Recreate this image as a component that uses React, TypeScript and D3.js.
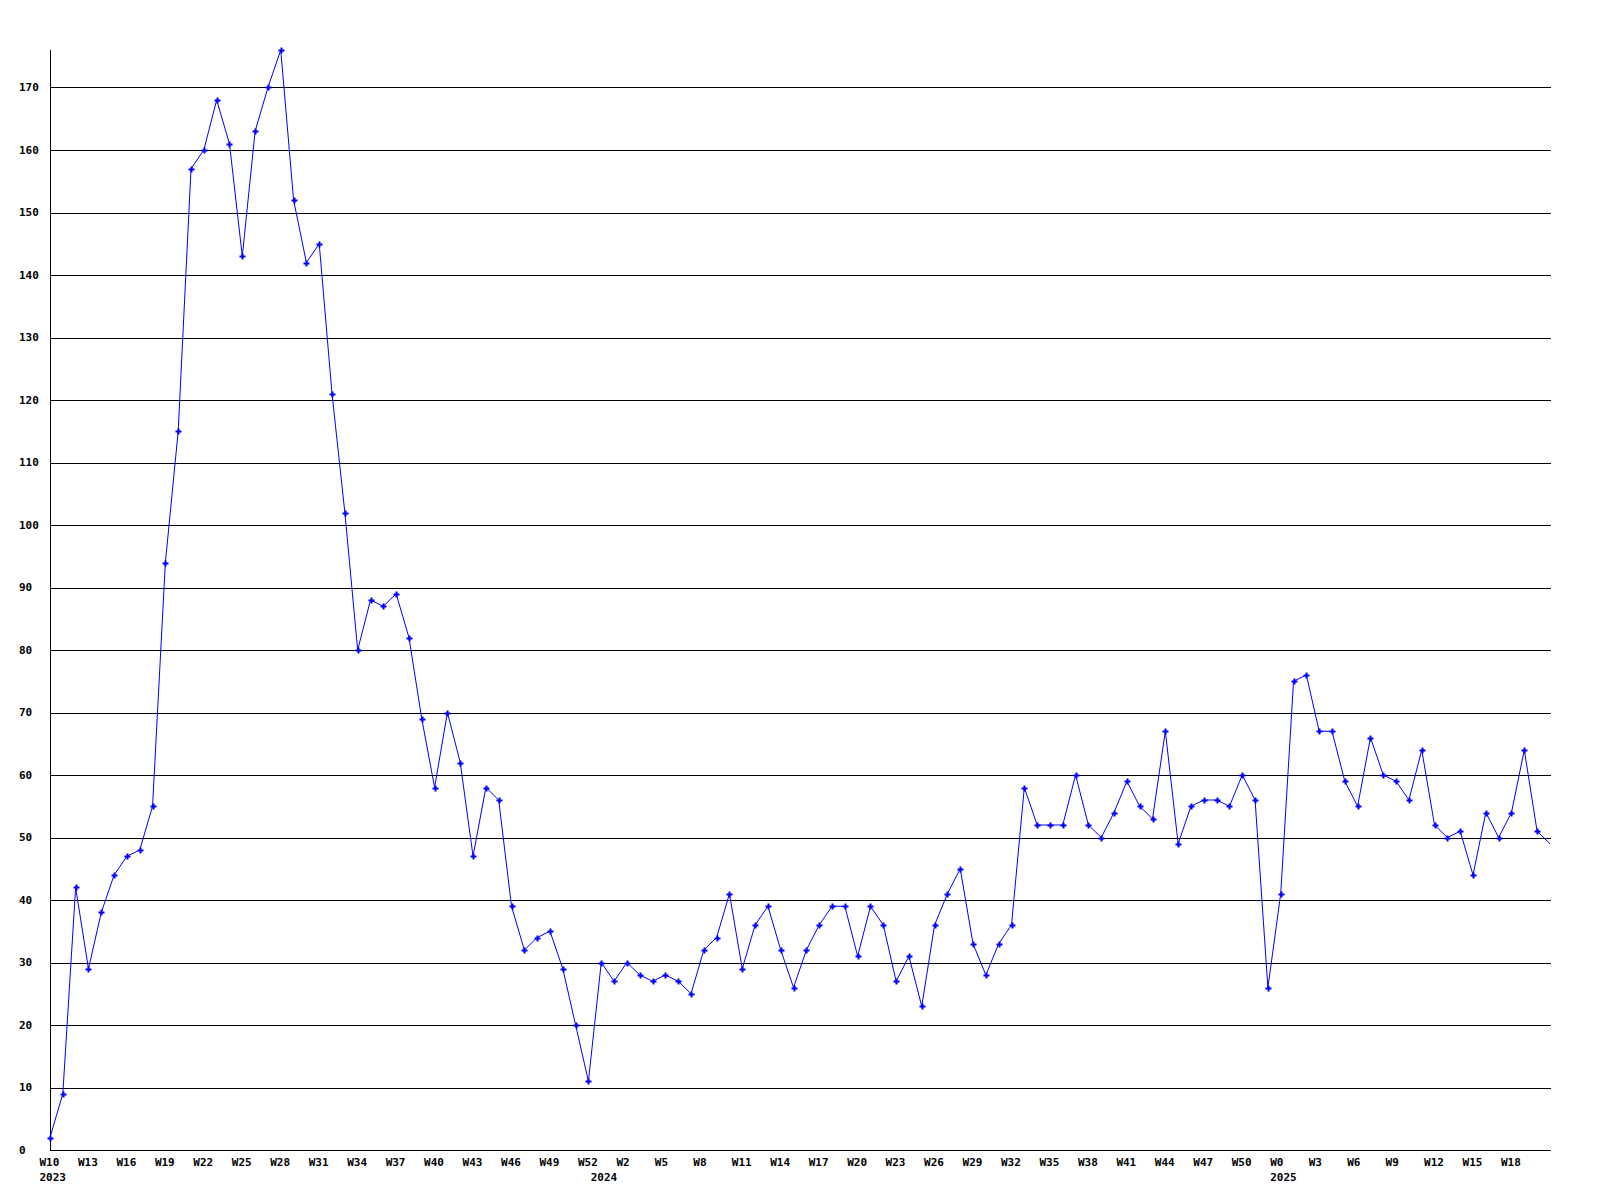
import React, { useEffect, useRef } from "react";
import * as d3 from "d3";

// Weekly values, from W10 2023 onward
const values: number[] = [
  2, 9, 42, 29, 38, 44, 47, 48, 55, 94,
  115, 157, 160, 168, 161, 143, 163, 170, 176, 152,
  142, 145, 121, 102, 80, 88, 87, 89, 82, 69,
  58, 70, 62, 47, 58, 56, 39, 32, 34, 35,
  29, 20, 11, 30, 27, 30, 28, 27, 28, 27,
  25, 32, 34, 41, 29, 36, 39, 32, 26, 32,
  36, 39, 39, 31, 39, 36, 27, 31, 23, 36,
  41, 45, 33, 28, 33, 36, 58, 52, 52, 52,
  60, 52, 50, 54, 59, 55, 53, 67, 49, 55,
  56, 56, 55, 60, 56, 26, 41, 75, 76, 67,
  67, 59, 55, 66, 60, 59, 56, 64, 52, 50,
  51, 44, 54, 50, 54, 64, 51, 49,
];

// Tick labels (every third week) with their index
const tickIndices: number[] = [
  0, 3, 6, 9, 12, 15, 18, 21, 24, 27, 30, 33, 36, 39, 42,
  45, 48, 51, 54, 57, 60, 63, 66, 69, 72, 75, 78, 81, 84, 87, 90, 93,
  96, 99, 102, 105, 108, 111, 114,
];
const tickLabels: string[] = [
  "W10", "W13", "W16", "W19", "W22", "W25", "W28", "W31", "W34", "W37", "W40", "W43", "W46", "W49", "W52",
  "W2", "W5", "W8", "W11", "W14", "W17", "W20", "W23", "W26", "W29", "W32", "W35", "W38", "W41", "W44", "W47", "W50",
  "W0", "W3", "W6", "W9", "W12", "W15", "W18",
];
const yearIndices: number[] = [0, 43, 96];
const yearLabels: string[] = ["2023", "2024", "2025"];
const yTicks: number[] = [0, 10, 20, 30, 40, 50, 60, 70, 80, 90, 100, 110, 120, 130, 140, 150, 160, 170];

export default function App() {
  const ref = useRef<SVGSVGElement>(null);

  useEffect(() => {
    const svg = d3.select(ref.current);
    svg.selectAll("*").remove();

    const left = 50;
    const right = 1551;
    const top = 50;
    const bottom = 1150;

    const x = d3.scaleLinear().domain([0, 117]).range([left, left + 117 * 12.82]);
    const y = d3.scaleLinear().domain([0, 176]).range([bottom, top]);

    const font = "'DejaVu Sans Mono', monospace";

    // grid lines
    svg
      .append("g")
      .selectAll("line")
      .data(yTicks.filter((t) => t > 0))
      .join("line")
      .attr("x1", left)
      .attr("x2", right)
      .attr("y1", (d) => Math.round(y(d)) + 0.5)
      .attr("y2", (d) => Math.round(y(d)) + 0.5)
      .attr("stroke", "#000")
      .attr("stroke-width", 1)
      .attr("shape-rendering", "crispEdges");

    // axes
    svg
      .append("line")
      .attr("x1", left + 0.5)
      .attr("x2", left + 0.5)
      .attr("y1", top)
      .attr("y2", bottom + 0.5)
      .attr("stroke", "#000")
      .attr("shape-rendering", "crispEdges");
    svg
      .append("line")
      .attr("x1", left)
      .attr("x2", right)
      .attr("y1", bottom + 0.5)
      .attr("y2", bottom + 0.5)
      .attr("stroke", "#000")
      .attr("shape-rendering", "crispEdges");

    // y labels
    svg
      .append("g")
      .selectAll("text")
      .data(yTicks)
      .join("text")
      .attr("x", 19)
      .attr("y", (d) => y(d))
      .attr("dy", "0.35em")
      .attr("font-family", font)
      .attr("font-weight", "bold")
      .attr("font-size", 11)
      .attr("fill", "#000")
      .text((d) => String(d));

    // x labels
    svg
      .append("g")
      .selectAll("text")
      .data(tickIndices)
      .join("text")
      .attr("x", (d) => x(d) - 10.5)
      .attr("y", 1166)
      .attr("font-family", font)
      .attr("font-weight", "bold")
      .attr("font-size", 11)
      .attr("fill", "#000")
      .text((_d, i) => tickLabels[i]);

    svg
      .append("g")
      .selectAll("text")
      .data(yearIndices)
      .join("text")
      .attr("x", (d) => x(d) - 10.5)
      .attr("y", 1181)
      .attr("font-family", font)
      .attr("font-weight", "bold")
      .attr("font-size", 11)
      .attr("fill", "#000")
      .text((_d, i) => yearLabels[i]);

    // clip
    svg
      .append("defs")
      .append("clipPath")
      .attr("id", "plotclip")
      .append("rect")
      .attr("x", 0)
      .attr("y", 0)
      .attr("width", right)
      .attr("height", 1200);

    const plot = svg.append("g").attr("clip-path", "url(#plotclip)");

    const line = d3
      .line<number>()
      .x((_d, i) => x(i))
      .y((d) => y(d));

    plot
      .append("path")
      .datum(values)
      .attr("d", line)
      .attr("fill", "none")
      .attr("stroke", "#0000ff")
      .attr("stroke-width", 1);

    plot
      .append("g")
      .selectAll("path")
      .data(values.slice(0, values.length - 1))
      .join("path")
      .attr("d", (d, i) => {
        const cx = Math.round(x(i)) + 0.5;
        const cy = Math.round(y(d)) + 0.5;
        return `M${cx - 3},${cy}H${cx + 3}M${cx},${cy - 3}V${cy + 3}`;
      })
      .attr("stroke", "#0000ff")
      .attr("stroke-width", 2)
      .attr("fill", "none");
  }, []);

  return (
    <svg
      ref={ref}
      width={1600}
      height={1200}
      style={{ position: "absolute", left: 0, top: 0, background: "#fff" }}
    />
  );
}
